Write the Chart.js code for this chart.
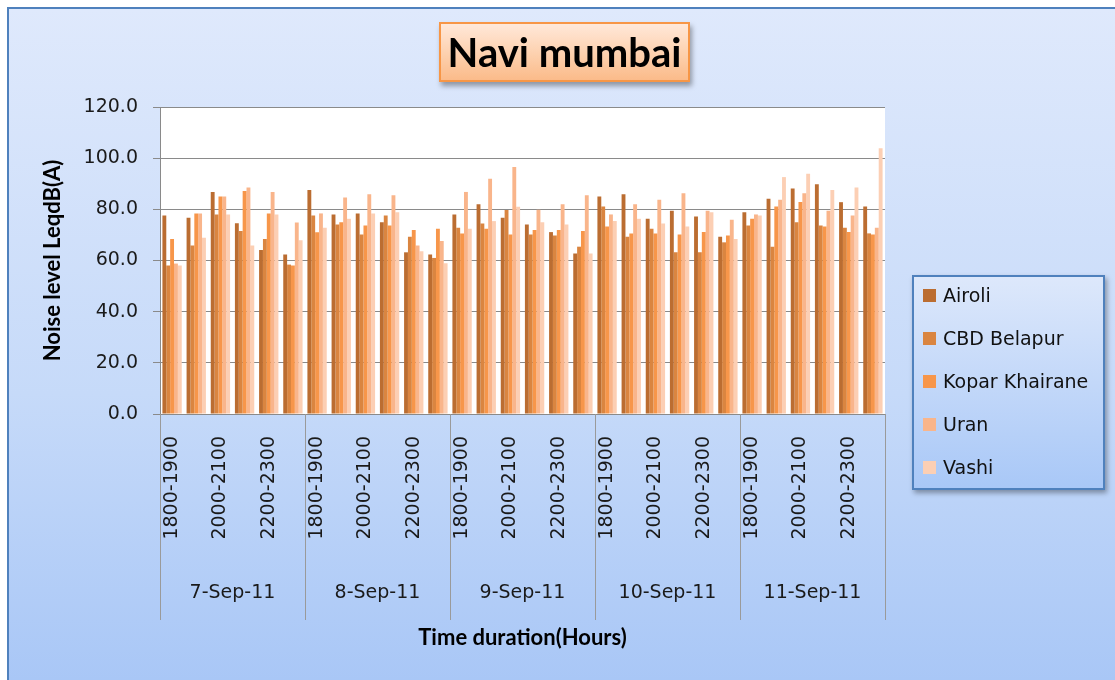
<!DOCTYPE html>
<html>
<head>
<meta charset="utf-8">
<script src="https://cdn.jsdelivr.net/npm/chart.js"></script>
<style>
  html, body { margin: 0; padding: 0; width: 1115px; height: 680px; overflow: hidden; background: #fff; }
  #frame {
    position: absolute; left: 7px; top: 7px; width: 1130px; height: 700px;
    border: 2px solid #4f81bd;
    background: linear-gradient(to bottom, #dfe9fc 0%, #c6daf9 55%, #a6c5f6 100%);
  }
  #wrap { position: absolute; left: 0; top: 0; width: 1115px; height: 680px; z-index: 1; }
  #title-box {
    position: absolute; left: 439px; top: 22px; width: 251px; height: 60px; box-sizing: border-box;
    border: 2px solid #f79646; z-index: 2;
    background: linear-gradient(to bottom, #ffe8d9 0%, #fdd0ad 55%, #fbbb8a 100%);
    box-shadow: 2px 4px 5px rgba(0, 0, 0, 0.35);
    display: flex; align-items: center; justify-content: center;
    font: bold 40px Lato, sans-serif; color: #000;
  }
  #legend {
    position: absolute; left: 912px; top: 275px; width: 193px; height: 215px; box-sizing: border-box;
    border: 2px solid #4f81bd; z-index: 2;
    background: linear-gradient(to bottom, #dde8fb 0%, #c3d8f9 50%, #a9c8f7 100%);
    box-shadow: 2px 3px 5px rgba(0, 0, 0, 0.35);
  }
  .item {
    position: absolute; left: 9px; height: 24px; display: flex; align-items: center;
    font: 19px "DejaVu Sans", sans-serif; color: #111; white-space: nowrap;
  }
  .swatch { width: 13px; height: 13px; margin-right: 7px; }
</style>
</head>
<body>
<div id="frame"></div>
<div id="wrap"><canvas id="noiseChart"></canvas></div>
<div id="title-box">Navi mumbai</div>
<div id="legend"></div>
<script>
  const days = ["7-Sep-11", "8-Sep-11", "9-Sep-11", "10-Sep-11", "11-Sep-11"];
  const slots = ["1800-1900", "1900-2000", "2000-2100", "2100-2200", "2200-2300", "2300-2400"];
  const yTicks = [0, 20, 40, 60, 80, 100, 120];

  const seriesNames = ["Airoli", "CBD Belapur", "Kopar Khairane", "Uran", "Vashi"];
  const seriesColors = ["#bb6d31", "#da8540", "#f7964a", "#f9b58b", "#fccfb4"];

  const airoli = [77.6, 76.7, 86.8, 74.6, 64.1, 62.3, 87.6, 78.0, 78.4, 75.0, 63.2, 62.3, 78.0, 82.0, 76.7, 74.1, 71.1, 62.7, 85.0, 85.9, 76.3, 79.4, 77.2, 69.3, 78.9, 84.1, 88.1, 89.8, 82.8, 81.1];
  const cbdBelapur = [58.0, 65.9, 78.0, 71.5, 68.4, 58.4, 77.6, 74.1, 70.2, 77.6, 69.3, 61.0, 72.8, 74.5, 79.7, 70.2, 69.8, 65.4, 81.1, 69.3, 72.4, 63.2, 63.2, 67.1, 73.7, 65.4, 75.0, 73.7, 72.8, 70.6];
  const koparKhairane = [68.4, 78.4, 85.0, 87.2, 78.4, 58.0, 71.0, 75.0, 73.7, 73.7, 71.9, 72.4, 70.6, 72.4, 70.2, 71.9, 71.9, 71.5, 73.3, 70.6, 70.6, 70.2, 71.1, 69.8, 76.3, 81.1, 82.9, 73.3, 71.1, 70.2];
  const uran = [58.8, 78.4, 85.0, 88.5, 86.8, 74.9, 78.4, 84.6, 85.9, 85.5, 65.9, 67.6, 86.8, 92.0, 96.5, 79.8, 82.0, 85.5, 78.0, 82.0, 83.7, 86.3, 79.4, 75.9, 78.0, 83.7, 86.3, 79.4, 77.6, 72.8];
  const vashi = [58.0, 68.9, 78.0, 65.9, 78.0, 67.9, 72.8, 76.3, 78.4, 78.9, 63.6, 58.9, 72.4, 75.4, 81.0, 75.0, 74.1, 62.7, 75.4, 76.3, 74.5, 73.3, 78.9, 68.4, 77.6, 92.6, 93.9, 87.6, 88.5, 103.9];

  const seriesValues = [airoli, cbdBelapur, koparKhairane, uran, vashi];

  // one category per (day, slot)
  const labels = [];
  days.forEach(() => slots.forEach((s) => labels.push(s)));

  // legend as html
  const legendBox = document.getElementById("legend");
  seriesNames.forEach((name, i) => {
    const item = document.createElement("div");
    item.className = "item";
    item.style.top = (6 + i * 43) + "px";
    item.innerHTML = `<span class="swatch" style="background:${seriesColors[i]}"></span>${name}`;
    legendBox.appendChild(item);
  });

  // white plot area + day separators and date labels under the time ticks
  const groupAxis = {
    id: "groupAxis",
    beforeDraw(chart) {
      const { ctx, chartArea } = chart;
      ctx.save();
      ctx.fillStyle = "#ffffff";
      ctx.fillRect(chartArea.left, chartArea.top, chartArea.right - chartArea.left, chartArea.bottom - chartArea.top);
      ctx.restore();
    },
    afterDraw(chart) {
      const { ctx } = chart;
      const x = chart.scales.x;
      const perDay = slots.length;
      const total = labels.length;
      const top = x.top;
      const bottom = x.top + 206;
      ctx.save();
      ctx.strokeStyle = "#9a9a9a";
      ctx.lineWidth = 1;
      for (let d = 0; d <= days.length; d++) {
        const px = Math.round(x.left + (x.right - x.left) * (d * perDay) / total) + 0.5;
        ctx.beginPath();
        ctx.moveTo(px, top);
        ctx.lineTo(px, bottom);
        ctx.stroke();
      }
      ctx.fillStyle = "#1a1a1a";
      ctx.font = '19px "DejaVu Sans", sans-serif';
      ctx.textAlign = "center";
      ctx.textBaseline = "middle";
      days.forEach((day, d) => {
        const cx = x.left + (x.right - x.left) * (d * perDay + perDay / 2) / total;
        ctx.fillText(day, cx, top + 179);
      });
      ctx.restore();
    },
  };

  const ctx = document.getElementById("noiseChart").getContext("2d");
  const noiseChart = new Chart(ctx, {
    type: "bar",
    data: {
      labels: labels,
      datasets: seriesNames.map((name, i) => ({
        label: name,
        data: seriesValues[i],
        backgroundColor: seriesColors[i],
        borderWidth: 0,
        categoryPercentage: 0.8,
        barPercentage: 1.0,
      })),
    },
    options: {
      responsive: true,
      maintainAspectRatio: false,
      animation: false,
      layout: { padding: { left: 20, top: 107, right: 230, bottom: 0 } },
      plugins: {
        legend: { display: false },
        tooltip: { enabled: false },
      },
      scales: {
        x: {
          grid: { display: false },
          border: { display: true, color: "#8a8a8a", width: 1 },
          ticks: {
            autoSkip: false,
            minRotation: 90,
            maxRotation: 90,
            padding: 14,
            color: "#1a1a1a",
            font: { family: "DejaVu Sans", size: 19 },
            callback: (value, index) => (index % 2 === 0 ? labels[index] : ""),
          },
          title: {
            display: true,
            text: "Time duration(Hours)",
            color: "#000",
            font: { family: "Lato", size: 22, weight: "bold" },
            padding: { top: 0, bottom: 29 },
          },
          afterFit: (scale) => { scale.height = 266; },
        },
        y: {
          min: yTicks[0],
          max: yTicks[yTicks.length - 1],
          afterBuildTicks: (scale) => { scale.ticks = yTicks.map((v) => ({ value: v })); },
          grid: { color: "#8a8a8a", lineWidth: 1, tickLength: 7 },
          border: { display: true, color: "#8a8a8a", width: 1 },
          ticks: {
            padding: 15,
            color: "#1a1a1a",
            font: { family: "DejaVu Sans", size: 19 },
            callback: (v) => Number(v).toFixed(1),
          },
          title: {
            display: true,
            text: "Noise level LeqdB(A)",
            color: "#000",
            font: { family: "Lato", size: 22, weight: "bold" },
            padding: { top: 20, bottom: 0 },
          },
          afterFit: (scale) => { scale.width = 140; },
        },
      },
    },
    plugins: [groupAxis],
  });
</script>
</body>
</html>
